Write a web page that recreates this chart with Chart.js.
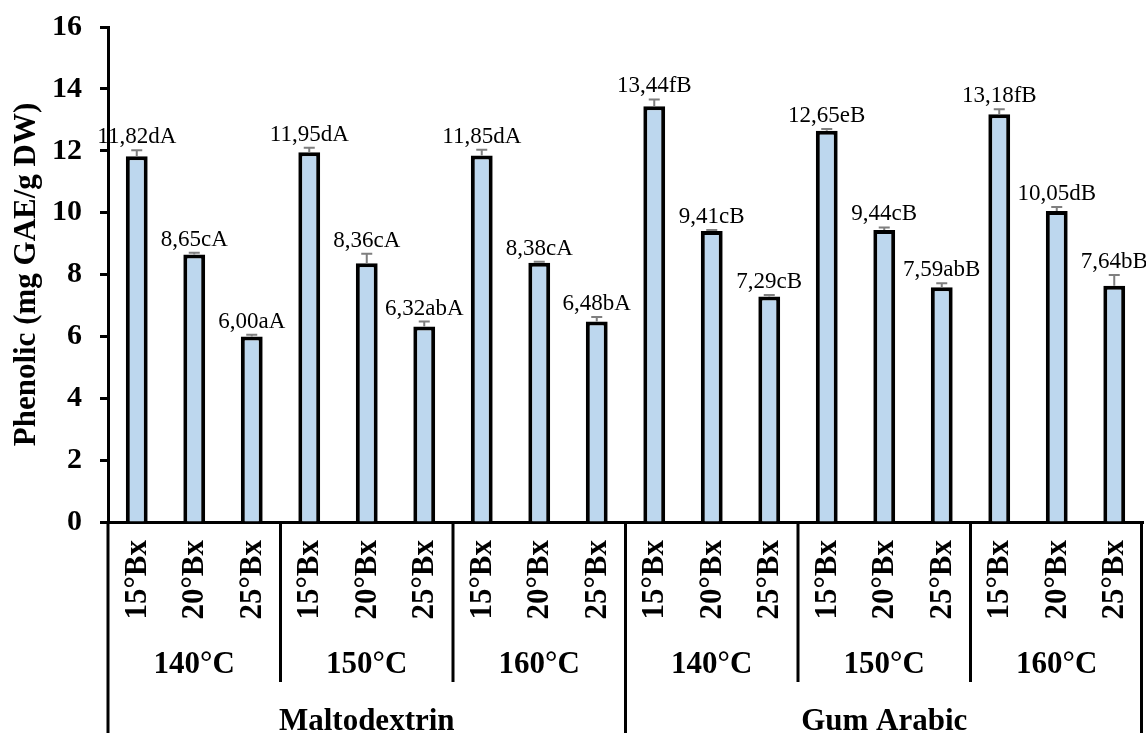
<!DOCTYPE html>
<html>
<head>
<meta charset="utf-8">
<script src="https://cdn.jsdelivr.net/npm/chart.js@4"></script>
<style>
  html, body { margin: 0; padding: 0; background: #ffffff; }
  #wrap { width: 1146px; height: 733px; }
</style>
</head>
<body>
<div id="wrap"><canvas id="c" width="1146" height="733"></canvas></div>
<script>
// ---- data ----
const brixLabels = ['15°Bx','20°Bx','25°Bx','15°Bx','20°Bx','25°Bx','15°Bx','20°Bx','25°Bx',
                    '15°Bx','20°Bx','25°Bx','15°Bx','20°Bx','25°Bx','15°Bx','20°Bx','25°Bx'];
const tempLabels = ['140°C','150°C','160°C','140°C','150°C','160°C'];
const carrierLabels = ['Maltodextrin','Gum Arabic'];
const phenolicValues = [11.82, 8.65, 6.00, 11.95, 8.36, 6.32, 11.85, 8.38, 6.48,
                        13.44, 9.41, 7.29, 12.65, 9.44, 7.59, 13.18, 10.05, 7.64];
const errorValues = [0.20, 0.05, 0.05, 0.15, 0.31, 0.16, 0.18, 0.03, 0.15,
                     0.22, 0.03, 0.05, 0.05, 0.08, 0.13, 0.16, 0.13, 0.34];
const letterLabels = ['dA','cA','aA','dA','cA','abA','dA','cA','bA',
                      'fB','cB','cB','eB','cB','abB','fB','dB','bB'];
const yTicks = [0, 2, 4, 6, 8, 10, 12, 14, 16];

const SERIF = '"Liberation Serif", "Times New Roman", serif';

const decorPlugin = {
  id: 'decor',
  afterDatasetsDraw(chart) {
    const ctx = chart.ctx;
    const meta = chart.getDatasetMeta(0);
    const ys = chart.scales.y;
    const area = chart.chartArea;
    ctx.save();
    // error bars + value labels
    meta.data.forEach((bar, i) => {
      const v = phenolicValues[i];
      const e = errorValues[i];
      const yTop = ys.getPixelForValue(v + e);
      const yBar = ys.getPixelForValue(v);
      ctx.strokeStyle = '#7f7f7f';
      ctx.lineWidth = 2;
      ctx.beginPath();
      ctx.moveTo(bar.x, yBar);
      ctx.lineTo(bar.x, yTop);
      ctx.moveTo(bar.x - 5.5, yTop);
      ctx.lineTo(bar.x + 5.5, yTop);
      ctx.stroke();
      ctx.fillStyle = '#000';
      ctx.font = '23px ' + SERIF;
      ctx.textAlign = 'center';
      ctx.textBaseline = 'alphabetic';
      ctx.fillText(v.toFixed(2).replace('.', ',') + letterLabels[i], bar.x, yTop - 7);
    });
    // bottom multi-level category axis
    const bottom = chart.height;
    const xAxisY = area.bottom;
    ctx.fillStyle = '#000';
    ctx.font = 'bold 31px ' + SERIF;
    meta.data.forEach((bar, i) => {
      ctx.save();
      ctx.translate(bar.x, xAxisY + 18);
      ctx.rotate(-Math.PI / 2);
      ctx.textAlign = 'right';
      ctx.textBaseline = 'middle';
      ctx.fillText(brixLabels[i], 0, 1);
      ctx.restore();
    });
    const n = meta.data.length;
    const cw = (area.right - area.left) / n;
    const boundary = (k) => area.left + k * cw;
    ctx.textAlign = 'center';
    ctx.textBaseline = 'alphabetic';
    tempLabels.forEach((t, g) => {
      const cx = (boundary(g * 3) + boundary(g * 3 + 3)) / 2;
      ctx.fillText(t, cx, xAxisY + 151);
    });
    carrierLabels.forEach((t, g) => {
      const cx = (boundary(g * 9) + boundary(g * 9 + 9)) / 2;
      ctx.fillText(t, cx, xAxisY + 208);
    });
    // separator lines
    ctx.strokeStyle = '#000';
    ctx.lineWidth = 3;
    ctx.beginPath();
    for (let k = 0; k <= n; k += 3) {
      const x = Math.min(boundary(k), area.right - 1.5);
      const long = (k % 9 === 0);
      ctx.moveTo(x, xAxisY);
      ctx.lineTo(x, long ? bottom : xAxisY + 160);
    }
    ctx.stroke();
    ctx.restore();
  }
};

new Chart(document.getElementById('c'), {
  type: 'bar',
  data: {
    labels: brixLabels,
    datasets: [{
      data: phenolicValues,
      backgroundColor: '#bdd7ee',
      borderColor: '#000000',
      borderWidth: 4,
      borderSkipped: 'bottom',
      categoryPercentage: 1.0,
      barPercentage: 0.38
    }]
  },
  options: {
    responsive: false,
    animation: false,
    devicePixelRatio: 1,
    layout: { padding: { top: 27, right: 3, left: 0, bottom: 0 } },
    plugins: { legend: { display: false }, tooltip: { enabled: false } },
    scales: {
      x: {
        ticks: { display: false },
        grid: { display: false },
        border: { display: true, color: '#000', width: 3 },
        afterFit: (s) => { s.height = 211; }
      },
      y: {
        min: 0, max: 16,
        afterBuildTicks: (s) => { s.ticks = yTicks.map(v => ({ value: v })); },
        ticks: {
          color: '#000',
          padding: 18,
          font: { family: SERIF, size: 30, weight: 'bold' }
        },
        grid: { drawOnChartArea: false, drawTicks: true, tickLength: 8, tickColor: '#000', tickWidth: 3 },
        border: { display: true, color: '#000', width: 3 },
        title: {
          display: true,
          text: 'Phenolic (mg GAE/g DW)',
          color: '#000',
          font: { family: SERIF, size: 31, weight: 'bold' },
          padding: { top: 8, bottom: 0 }
        },
        afterFit: (s) => { s.width = 108; s.paddingTop = 0; s.paddingBottom = 0; }
      }
    }
  },
  plugins: [decorPlugin]
});
</script>
</body>
</html>
